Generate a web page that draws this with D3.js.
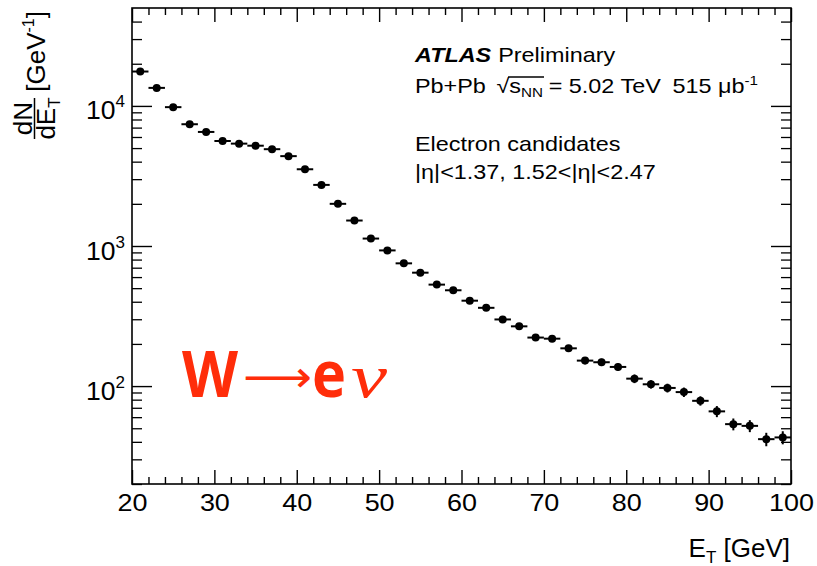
<!DOCTYPE html>
<html>
<head>
<meta charset="utf-8">
<script src="https://cdn.jsdelivr.net/npm/d3@7"></script>
<style>
  body { margin: 0; background: #fff; }
  svg { display: block; font-family: "Liberation Sans", Arial, Helvetica, sans-serif; }
</style>
</head>
<body>
<svg id="chart" width="817" height="566"></svg>
<script>
// bin centres (GeV), dN/dE_T and stat. errors
const etCentres = [21, 23, 25, 27, 29, 31, 33, 35, 37, 39, 41, 43, 45, 47, 49, 51, 53, 55, 57, 59,
                   61, 63, 65, 67, 69, 71, 73, 75, 77, 79, 81, 83, 85, 87, 89, 91, 93, 95, 97, 99];
const dNdEt = [17600, 13450, 9800, 7400, 6520, 5620, 5380, 5200, 4910, 4380, 3530, 2730, 2000, 1520, 1130,
               930, 752, 645, 530, 483, 407, 362, 299, 267, 222, 218, 186, 152, 148, 137,
               113, 103, 97, 90.6, 78.5, 66, 53.5, 52, 41.8, 43];
const dNdEtErr = [94, 82, 70, 61, 57, 53, 52, 51, 50, 47, 42, 37, 32, 28, 24,
                  22, 19, 18, 16, 16, 14, 13, 12, 12, 11, 10, 10, 9, 9, 8,
                  8, 7, 7, 7, 6, 6, 5.2, 5.1, 4.6, 4.6];
const binHalfWidth = 1;

const xMajorTicks = [20, 30, 40, 50, 60, 70, 80, 90, 100];
const xMinorTicks = d3.range(22, 100, 2).filter(v => v % 10 !== 0);
const yMajorTicks = [100, 1000, 10000];
const yMajorExp = [2, 3, 4];
const yMinorTicks = [20, 30, 40, 50, 60, 70, 80, 90, 200, 300, 400, 500, 600, 700, 800, 900,
                     2000, 3000, 4000, 5000, 6000, 7000, 8000, 9000, 20000, 30000, 40000];

const frame = { left: 132, right: 791, top: 8, bottom: 484 };

const svg = d3.select("#chart");

const x = d3.scaleLinear().domain([20, 100]).range([frame.left, frame.right]);
const y = d3.scaleLog().domain([20, 50000]).range([frame.bottom, frame.top]);

function styleAxis(g, w) {
    g.select(".domain").remove();
    g.selectAll(".tick line").attr("stroke", "#000").attr("stroke-width", w);
}

// ticks, all pointing into the frame
svg.append("g").attr("transform", `translate(0,${frame.bottom})`)
    .call(d3.axisBottom(x).tickValues(xMinorTicks).tickSize(-7).tickFormat(""))
    .call(g => styleAxis(g, 1.4));
const xAxisMajor = svg.append("g").attr("transform", `translate(0,${frame.bottom})`)
    .call(d3.axisBottom(x).tickValues(xMajorTicks).tickSize(-14).tickPadding(0).tickFormat(d3.format("d")))
    .call(g => styleAxis(g, 1.4));
xAxisMajor.selectAll(".tick text")
    .attr("y", 27).attr("dy", 0)
    .attr("transform", "scale(1.1,1)")
    .attr("fill", "#000")
    .style("font-size", "24.5px");

svg.append("g").attr("transform", `translate(0,${frame.top})`)
    .call(d3.axisTop(x).tickValues(xMinorTicks).tickSize(-7).tickFormat(""))
    .call(g => styleAxis(g, 1.4));
svg.append("g").attr("transform", `translate(0,${frame.top})`)
    .call(d3.axisTop(x).tickValues(xMajorTicks).tickSize(-14).tickFormat(""))
    .call(g => styleAxis(g, 1.4));

svg.append("g").attr("transform", `translate(${frame.left},0)`)
    .call(d3.axisLeft(y).tickValues(yMinorTicks).tickSize(-10).tickFormat(""))
    .call(g => styleAxis(g, 1.3));
const yAxisMajor = svg.append("g").attr("transform", `translate(${frame.left},0)`)
    .call(d3.axisLeft(y).tickValues(yMajorTicks).tickSize(-20).tickFormat(""))
    .call(g => styleAxis(g, 1.4));

svg.append("g").attr("transform", `translate(${frame.right},0)`)
    .call(d3.axisRight(y).tickValues(yMinorTicks).tickSize(-10).tickFormat(""))
    .call(g => styleAxis(g, 1.3));
svg.append("g").attr("transform", `translate(${frame.right},0)`)
    .call(d3.axisRight(y).tickValues(yMajorTicks).tickSize(-20).tickFormat(""))
    .call(g => styleAxis(g, 1.4));

// 10^n labels
yAxisMajor.selectAll(".tick").each(function(d, i) {
    const t = d3.select(this).append("text")
        .attr("x", -7).attr("y", 13)
        .attr("text-anchor", "end")
        .attr("fill", "#000")
        .style("font-size", "26.5px");
    t.append("tspan").text("10");
    t.append("tspan").attr("dy", -12).style("font-size", "17px").text(yMajorExp[i]);
});

// frame
svg.append("rect")
    .attr("x", frame.left).attr("y", frame.top)
    .attr("width", frame.right - frame.left).attr("height", frame.bottom - frame.top)
    .attr("fill", "none").attr("stroke", "#000").attr("stroke-width", 1.6);

// data points with error bars
const data = etCentres.map((c, i) => ({ et: c, v: dNdEt[i], err: dNdEtErr[i] }));
const pts = svg.append("g").selectAll("g").data(data).enter().append("g");

pts.append("line")
    .attr("x1", d => x(d.et - binHalfWidth)).attr("x2", d => x(d.et + binHalfWidth))
    .attr("y1", d => y(d.v)).attr("y2", d => y(d.v))
    .attr("stroke", "#000").attr("stroke-width", 2);
pts.append("line")
    .attr("x1", d => x(d.et)).attr("x2", d => x(d.et))
    .attr("y1", d => y(d.v - d.err)).attr("y2", d => y(d.v + d.err))
    .attr("stroke", "#000").attr("stroke-width", 2);
pts.append("circle")
    .attr("cx", d => x(d.et)).attr("cy", d => y(d.v))
    .attr("r", 4).attr("fill", "#000");

// axis titles
svg.append("text")
    .attr("x", 790).attr("y", 557)
    .attr("text-anchor", "end")
    .style("font-size", "26px")
    .call(t => {
        t.append("tspan").text("E");
        t.append("tspan").attr("dy", 6).style("font-size", "17px").text("T");
        t.append("tspan").attr("dy", -6).text(" [GeV]");
    });

const yTitle = svg.append("g").attr("transform", "rotate(-90)");
yTitle.append("text")
    .attr("x", -118.5).attr("y", 31.5)
    .attr("text-anchor", "middle")
    .style("font-size", "26px")
    .text("dN");
yTitle.append("line")
    .attr("x1", -139).attr("x2", -98)
    .attr("y1", 34.5).attr("y2", 34.5)
    .attr("stroke", "#000").attr("stroke-width", 1.5);
yTitle.append("text")
    .attr("x", -118.5).attr("y", 55)
    .attr("text-anchor", "middle")
    .style("font-size", "26px")
    .call(t => {
        t.append("tspan").text("dE");
        t.append("tspan").attr("dy", 5).style("font-size", "17px").text("T");
    });
yTitle.append("text")
    .attr("x", -11).attr("y", 45)
    .attr("text-anchor", "end")
    .style("font-size", "26px")
    .call(t => {
        t.append("tspan").text("[GeV");
        t.append("tspan").attr("dy", -11).style("font-size", "16px").text("-1");
        t.append("tspan").attr("dy", 11).text("]");
    });

// info text, pieces chained by measured width
function chain(g, x0, y0, parts) {
    let cx = x0;
    const ends = [];
    parts.forEach(p => {
        const t = g.append("text")
            .attr("x", cx + (p.dx || 0)).attr("y", y0 + (p.dy || 0))
            .style("font-size", (p.size || 20) + "px")
            .style("font-weight", p.weight || "normal")
            .style("font-style", p.style || "normal")
            .text(p.t);
        const start = cx + (p.dx || 0);
        cx = start + t.node().getComputedTextLength();
        ends.push({ start: start, end: cx });
    });
    return ends;
}

const info = svg.append("g").attr("fill", "#000")
    .attr("transform", "translate(415,0) scale(1.17,1) translate(-415,0)");
chain(info, 415, 62, [
    { t: "ATLAS", weight: "bold", style: "italic" },
    { t: "Preliminary", dx: 6 }
]);
const l2 = chain(info, 415, 93, [
    { t: "Pb+Pb" },
    { t: "√", dx: 9 },
    { t: "s", dx: 0 },
    { t: "NN", size: 13, dy: 4 },
    { t: "= 5.02 TeV", dx: 5 },
    { t: "515 μb", dx: 10 },
    { t: "-1", size: 13, dy: -8 }
]);
info.append("line")
    .attr("x1", l2[1].end - 1).attr("x2", l2[3].end + 1)
    .attr("y1", 77).attr("y2", 77)
    .attr("stroke", "#000").attr("stroke-width", 1.3);
chain(info, 415, 151, [{ t: "Electron candidates" }]);
chain(info, 415, 179, [{ t: "|η|<1.37, 1.52<|η|<2.47" }]);

// process label
const red = "#ff2d0a";
const proc = svg.append("g").attr("fill", red);
proc.append("text")
    .attr("x", 182).attr("y", 397)
    .style("font-family", "'Open Sans', sans-serif")
    .style("font-weight", "bold").style("font-size", "64px")
    .attr("textLength", 56).attr("lengthAdjust", "spacingAndGlyphs")
    .text("W");
proc.append("text")
    .attr("x", 243).attr("y", 392)
    .style("font-family", "'DejaVu Sans', sans-serif")
    .style("font-size", "44px")
    .attr("textLength", 69).attr("lengthAdjust", "spacingAndGlyphs")
    .text("⟶");
proc.append("text")
    .attr("x", 312).attr("y", 397)
    .style("font-family", "'Open Sans', sans-serif")
    .style("font-weight", "bold").style("font-size", "64px")
    .attr("textLength", 34).attr("lengthAdjust", "spacingAndGlyphs")
    .text("e");
proc.append("text")
    .attr("x", 351).attr("y", 397)
    .style("font-family", "'Liberation Serif', serif")
    .style("font-style", "italic").style("font-size", "62px")
    .attr("textLength", 36).attr("lengthAdjust", "spacingAndGlyphs")
    .text("ν");
</script>
</body>
</html>
